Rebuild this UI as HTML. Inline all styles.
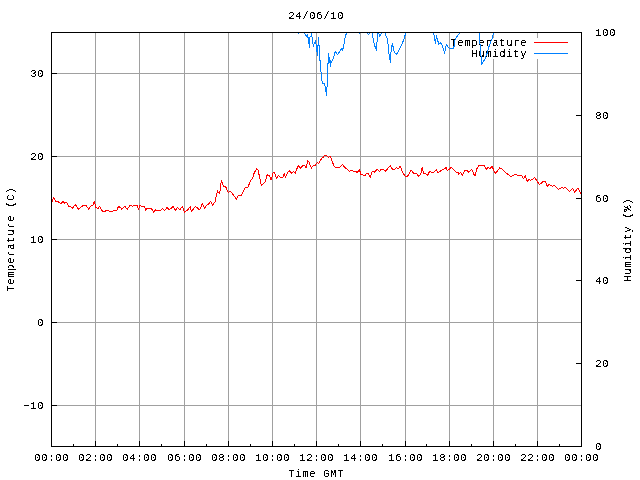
<!DOCTYPE html>
<html><head><meta charset="utf-8"><title>24/06/10</title><style>
html,body{margin:0;padding:0;background:#fff;width:640px;height:480px;overflow:hidden}
svg{display:block}
text{font-family:"Liberation Mono",monospace;font-size:10.5px;letter-spacing:0.7px;fill:#000}
</style></head><body>
<svg width="640" height="480" viewBox="0 0 640 480">
<rect width="640" height="480" fill="#fff"/>
<g shape-rendering="crispEdges"><rect x="95" y="33" width="1" height="413" fill="#a0a0a0"/><rect x="139" y="33" width="1" height="413" fill="#a0a0a0"/><rect x="184" y="33" width="1" height="413" fill="#a0a0a0"/><rect x="228" y="33" width="1" height="413" fill="#a0a0a0"/><rect x="272" y="33" width="1" height="413" fill="#a0a0a0"/><rect x="316" y="33" width="1" height="413" fill="#a0a0a0"/><rect x="360" y="33" width="1" height="413" fill="#a0a0a0"/><rect x="405" y="33" width="1" height="413" fill="#a0a0a0"/><rect x="449" y="33" width="1" height="413" fill="#a0a0a0"/><rect x="493" y="33" width="1" height="5" fill="#a0a0a0"/><rect x="493" y="59" width="1" height="387" fill="#a0a0a0"/><rect x="537" y="33" width="1" height="5" fill="#a0a0a0"/><rect x="537" y="59" width="1" height="387" fill="#a0a0a0"/><rect x="52" y="73" width="529" height="1" fill="#a0a0a0"/><rect x="52" y="156" width="529" height="1" fill="#a0a0a0"/><rect x="52" y="239" width="529" height="1" fill="#a0a0a0"/><rect x="52" y="322" width="529" height="1" fill="#a0a0a0"/><rect x="52" y="405" width="529" height="1" fill="#a0a0a0"/></g>
<g filter="url(#crisp)"><text x="527.35" y="46" text-anchor="end">Temperature</text><text x="527.35" y="57" text-anchor="end">Humidity</text></g>
<clipPath id="c"><rect x="52" y="33" width="529" height="413"/></clipPath>
<g clip-path="url(#c)" shape-rendering="crispEdges" fill="none" stroke-width="1" stroke-linejoin="round" stroke-linecap="round">
<polyline points="52.2,201.3 53.45,197.4 54.7,199.2 55.6,201.2 57.5,201.3 60.8,203.5 63.3,201.3 64.4,203.1 65.5,202.4 66.7,202.4 68.3,206 70.1,206.4 72.3,208.4 75.3,204.4 78.6,209.25 83.2,205.3 85.9,205 88.5,209.1 91.3,205.3 93.1,205 94.4,201.3 96,207.75 98.1,208.25 99.75,206.5 102.5,211.25 105,211.25 107.25,210.25 109.4,211.25 112.5,211.25 114.4,210.25 116.9,210 118.5,206.5 121,207.75 121.9,209.25 125,206.25 127.25,209.4 130,205.6 132.5,206.25 133.75,205.25 136.9,205.25 138.5,209.4 140,205.6 141.9,206.5 144.4,206.5 145.6,210.25 147.25,208.25 151.25,208.25 153.5,212.25 155,209.75 156.25,210.6 160.6,210.6 162.5,208.5 164.75,210.6 166.9,207.5 169.4,209.75 173.1,206.5 175.6,210.25 177.25,207.75 180,209.4 182.5,206.5 184.4,212.25 187.5,210 190.25,206.5 191.25,211.25 195.6,206.5 197.25,207.75 199.75,210 202.25,203.5 204.4,208.1 206.9,205 208.75,203.75 210.6,201.25 212.5,205.25 215,201.9 216.9,193.5 217.5,190.6 218.5,192.75 219.4,191.25 219.75,193.1 221.25,180.6 222.5,183.75 224,186.5 225.6,186.5 228.1,192.25 230.6,191.5 233.75,195.6 236.5,199 238.1,195.6 241.25,195.25 245,187.75 248.1,186.9 250.6,180.25 252.5,178.5 254,173.5 256.5,168.75 258.1,170.25 261.4,185.6 265,181.9 267.25,174.75 269.4,175.6 271.25,180 273.1,172.25 274.75,172.75 276.5,178.75 278.3,175.6 280,177.25 282.75,177.25 284.4,173.5 285.25,177.25 287.5,172.75 289.75,170.6 291.25,173.1 293.5,171.5 295.25,173.1 298.1,165.6 300.6,168.1 303.1,165.6 305,165.6 306,168.1 307.75,160.6 309,162.25 311.5,168.1 313.1,165.6 315.6,165 317.25,162.25 318.75,163.5 321.5,158.5 323.1,157.5 324.75,155.25 326.25,155.25 328.1,157.25 330,156.5 331.25,158.5 333.75,165.6 335.6,167.5 339.4,167.5 342.5,164.4 345,167.75 346.9,168.75 349,171.25 351.25,170.6 352.5,170.25 353.75,171.9 355.6,171.5 357.25,172.5 359.4,169.4 361,174.75 362.5,174.4 364,175.6 365.6,175 366.5,173.5 368.5,174 370.25,177.25 372.25,171.5 374.4,172.25 377.25,169.4 379.4,171.5 381.25,169.4 383.5,169.4 385.6,171.25 390.25,165.6 392.5,169.4 394.4,169.4 396.5,167.5 398.1,169 400.25,166.25 402.5,171.9 405,176 407.5,176.25 411.25,170.25 413.5,173.1 416.25,173.1 418.5,176.25 420.6,174.4 422.25,167.25 423.5,173.5 425,173.1 427.4,175.6 429.5,171.5 431.25,172.25 433.5,172.25 436.5,169.75 438.1,173.1 441.25,170.25 443.5,169.4 446.25,167.5 447.25,170.25 449.4,169 451.25,167.5 453.75,170 456.25,172.25 458.1,172.75 458.75,174.4 460.6,172.5 462.25,175.6 464.75,170.25 466.9,170.25 468.75,172.5 471.9,169.4 474,174.4 475.25,175.6 476.9,168.75 479,165.6 484.4,165.6 486.25,169.4 488.1,167.5 490,168.5 492.25,166.5 493.5,169.75 495.25,173.5 497.75,170.6 499.75,167.75 502.6,169.2 505.25,172.5 507.9,174.2 510.8,176.4 513.1,175.5 515.75,174.4 518.4,175.5 521.7,175.5 523.4,179 525.2,175.5 527.3,181.3 529.1,179 530.45,180.3 532.8,179 534.4,177.3 536.75,180.7 539.4,184.3 541.4,183.4 543.1,181.4 545.2,181.4 547.4,186.3 549.3,184.4 551,185.5 552.4,186.3 554.1,185.3 555.5,186.3 558.4,189.4 560.3,188.4 561.9,187.3 563.4,188.4 564.9,187.3 566.5,188.7 569.4,191.7 572.9,188.4 573.7,190.1 574.7,192.8 575.4,191.5 577.7,188.4 578.8,189.4 580.6,193.2" stroke="#ff0000"/>
<polyline points="296.5,30 298.5,33.6 300.5,30 302.5,30 304.1,33 305.3,34.7 306.7,37 307.3,34.3 307.9,37.3 308.7,38.7 309,44 309.5,47.7 310,36.7 311,36.3 311.7,33 312,36.7 312.7,42 313.3,46.3 314,43.7 314.8,43 315.5,40.7 316,44 316.5,47.3 317,52 317.5,55.3 317.9,47.3 318.5,37.3 318.8,45.3 319.3,45.7 319.7,60 320.5,61.6 321.05,72.8 321.7,79.8 322.6,83.1 324.05,83.6 325,85.4 325.5,91.5 325.9,86 326.4,96 327.2,85 327.5,64 328.5,63.5 328.5,53 329.2,63 329.8,57 330.4,66.5 331.3,62 333.3,58.7 334.3,55.5 335.2,51.3 337.5,54.5 339.2,52.2 341.25,48.4 342.5,50.5 343.75,45.5 344.6,40.5 345.4,35.9 346.7,33 348,30 357.5,30 359.4,33.5 361,30 366.5,31 368.5,34.5 369.5,33 370.5,31 371.8,31 372.5,34 372.8,37.5 373.5,40.5 374.8,45.9 376.5,50.5 377.1,40.5 377.5,32 378.5,31 379.5,36.5 380.5,35 381.5,33 382.5,31 384.5,31 385.5,34 386.25,36.3 387.5,38.8 388.3,46.3 389.2,55.5 390.4,62.2 391.25,48.8 392.3,43.4 393.2,47.2 394.2,52.2 396.25,54.5 398.3,51.75 400.8,46.75 403.3,40.9 405,35.5 405.7,33 407,30 431.5,30 433.3,33.2 434.2,35.5 434.8,40.5 435.7,43.4 436.25,35.5 437.1,39.7 437.7,38.4 438.3,44.25 439.3,43.4 440.4,42.6 441.7,44.7 442.9,47.2 443.75,50.5 444.6,53.4 445.4,48 446.25,44.7 447.1,45.5 448.3,47.2 450,48.6 452.3,48.9 453.5,49 453.6,47 454.6,46.5 454.6,40.5 455.4,38.8 457.5,35.9 459.6,33.2 461,30 478.5,30 479.3,33.2 479.6,38.8 480.4,48.8 481,56.3 481.5,64.25 482.9,62.2 485,58.8 486.7,54.7 488.75,47.2 490.4,42.6 492.1,38.4 493.2,34.25 493.75,33.2 495,30" stroke="#0080ff"/>
</g>
<g shape-rendering="crispEdges"><rect x="534" y="42" width="34" height="1" fill="#ff0000"/><rect x="534" y="53" width="34" height="1" fill="#0080ff"/></g>
<g shape-rendering="crispEdges"><rect x="51" y="32" width="531" height="1" fill="#000"/><rect x="51" y="446" width="531" height="1" fill="#000"/><rect x="51" y="32" width="1" height="415" fill="#000"/><rect x="581" y="32" width="1" height="415" fill="#000"/><rect x="52" y="73" width="5" height="1" fill="#000"/><rect x="52" y="156" width="5" height="1" fill="#000"/><rect x="52" y="239" width="5" height="1" fill="#000"/><rect x="52" y="322" width="5" height="1" fill="#000"/><rect x="52" y="405" width="5" height="1" fill="#000"/><rect x="576" y="115" width="5" height="1" fill="#000"/><rect x="576" y="198" width="5" height="1" fill="#000"/><rect x="576" y="280" width="5" height="1" fill="#000"/><rect x="576" y="363" width="5" height="1" fill="#000"/><rect x="95" y="441" width="1" height="5" fill="#000"/><rect x="139" y="441" width="1" height="5" fill="#000"/><rect x="184" y="441" width="1" height="5" fill="#000"/><rect x="228" y="441" width="1" height="5" fill="#000"/><rect x="272" y="441" width="1" height="5" fill="#000"/><rect x="316" y="441" width="1" height="5" fill="#000"/><rect x="360" y="441" width="1" height="5" fill="#000"/><rect x="405" y="441" width="1" height="5" fill="#000"/><rect x="449" y="441" width="1" height="5" fill="#000"/><rect x="493" y="441" width="1" height="5" fill="#000"/><rect x="537" y="441" width="1" height="5" fill="#000"/><rect x="73" y="444" width="1" height="2" fill="#000"/><rect x="117" y="444" width="1" height="2" fill="#000"/><rect x="161" y="444" width="1" height="2" fill="#000"/><rect x="206" y="444" width="1" height="2" fill="#000"/><rect x="250" y="444" width="1" height="2" fill="#000"/><rect x="294" y="444" width="1" height="2" fill="#000"/><rect x="338" y="444" width="1" height="2" fill="#000"/><rect x="382" y="444" width="1" height="2" fill="#000"/><rect x="426" y="444" width="1" height="2" fill="#000"/><rect x="471" y="444" width="1" height="2" fill="#000"/><rect x="515" y="444" width="1" height="2" fill="#000"/><rect x="559" y="444" width="1" height="2" fill="#000"/></g>
<filter id="crisp" x="0" y="0" width="640" height="480" filterUnits="userSpaceOnUse"><feComponentTransfer><feFuncA type="discrete" tableValues="0 0 0 1 1 1 1"/></feComponentTransfer></filter>
<filter id="crisp2" x="0" y="0" width="640" height="480" filterUnits="userSpaceOnUse"><feComponentTransfer><feFuncA type="discrete" tableValues="0 0 0 1 1 1 1"/></feComponentTransfer></filter>
<g filter="url(#crisp)"><text x="316.35" y="19" text-anchor="middle">24/06/10</text><text x="44.35" y="77" text-anchor="end">30</text><text x="44.35" y="160" text-anchor="end">20</text><text x="44.35" y="243" text-anchor="end">10</text><text x="44.35" y="326" text-anchor="end">0</text><text x="44.35" y="409" text-anchor="end">&#8722;10</text><text x="595.35" y="36" text-anchor="start">100</text><text x="595.35" y="119" text-anchor="start">80</text><text x="595.35" y="202" text-anchor="start">60</text><text x="595.35" y="284" text-anchor="start">40</text><text x="595.35" y="367" text-anchor="start">20</text><text x="595.35" y="450" text-anchor="start">0</text><text x="51.85" y="461" text-anchor="middle">00:00</text><text x="95.85" y="461" text-anchor="middle">02:00</text><text x="139.85" y="461" text-anchor="middle">04:00</text><text x="184.85" y="461" text-anchor="middle">06:00</text><text x="228.85" y="461" text-anchor="middle">08:00</text><text x="272.85" y="461" text-anchor="middle">10:00</text><text x="316.85" y="461" text-anchor="middle">12:00</text><text x="360.85" y="461" text-anchor="middle">14:00</text><text x="405.85" y="461" text-anchor="middle">16:00</text><text x="449.85" y="461" text-anchor="middle">18:00</text><text x="493.85" y="461" text-anchor="middle">20:00</text><text x="537.85" y="461" text-anchor="middle">22:00</text><text x="581.85" y="461" text-anchor="middle">00:00</text><text x="316.35" y="477" text-anchor="middle">Time GMT</text></g>
<g filter="url(#crisp2)"><text transform="translate(631,239.85) rotate(-90)" text-anchor="middle">Humidity (%)</text></g>
<filter id="crisp3" x="0" y="0" width="640" height="480" filterUnits="userSpaceOnUse"><feComponentTransfer><feFuncA type="discrete" tableValues="0 0 0 1 1 1 1"/></feComponentTransfer></filter>
<g filter="url(#crisp3)"><text transform="translate(14,239.35) rotate(-90)" text-anchor="middle">Temperature (C)</text></g>
</svg>
</body></html>
